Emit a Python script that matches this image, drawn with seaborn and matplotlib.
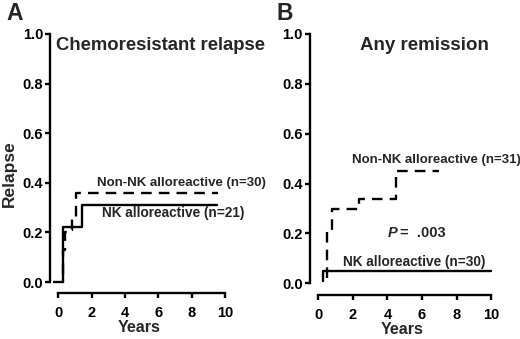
import numpy as np
import pandas as pd
import matplotlib
matplotlib.use("Agg")
import matplotlib.pyplot as plt
import seaborn as sns

# Panel A: chemoresistant relapse (step curves, years vs cumulative relapse)
a_nk_years = [0.3, 0.31, 1.45, 9.55]
a_nk_relapse = [0.0, 0.22, 0.31, 0.31]
a_non_years = [-0.3, 0.3, 0.4, 0.55, 0.85, 1.05, 9.6]
a_non_relapse = [0.0, 0.13, 0.20, 0.21, 0.26, 0.36, 0.36]

# Panel B: any remission
b_nk_years = [0.25, 0.27, 10.0]
b_nk_relapse = [0.01, 0.05, 0.05]
b_non_years = [0.5, 0.52, 0.77, 2.35, 4.49, 7.0]
b_non_relapse = [0.02, 0.21, 0.30, 0.34, 0.45, 0.45]

x_ticks = [0, 2, 4, 6, 8, 10]
y_ticks = [0.0, 0.2, 0.4, 0.6, 0.8, 1.0]

sns.set_style("ticks")
plt.rcParams["font.family"] = ["Liberation Sans", "DejaVu Sans"]
plt.rcParams["font.weight"] = "bold"

fig = plt.figure(figsize=(5.2, 3.39), dpi=100)
ax_a = fig.add_axes([50 / 520, (339 - 287) / 339, 178.3 / 520, 258 / 339])
ax_b = fig.add_axes([309.7 / 520, (339 - 288.3) / 339, 184.8 / 520, 259.3 / 339])

def draw_curve(ax, xs, ys, style):
    df = pd.DataFrame({"Years": xs, "Relapse": ys})
    sns.lineplot(data=df, x="Years", y="Relapse", ax=ax, estimator=None,
                 drawstyle="steps-post", color="black", linewidth=1.7,
                 linestyle=style, clip_on=False)

dash = (0, (4.5, 3))
draw_curve(ax_a, a_nk_years, a_nk_relapse, "-")
draw_curve(ax_a, a_non_years, a_non_relapse, dash)
draw_curve(ax_b, b_nk_years, b_nk_relapse, "-")
draw_curve(ax_b, b_non_years, b_non_relapse, dash)

for ax in (ax_a, ax_b):
    ax.set_xlim(-0.5, 10.2)
    ax.set_ylim(-0.02, 1.02)
    ax.spines["top"].set_visible(False)
    ax.spines["right"].set_visible(False)
    ax.spines["left"].set_bounds(0, 1)
    ax.spines["bottom"].set_bounds(0, 10)
    ax.spines["bottom"].set_position(("outward", 4.5))
    for s in ("left", "bottom"):
        ax.spines[s].set_linewidth(1.7)
        ax.spines[s].set_color("black")
    ax.set_xticks(x_ticks)
    ax.set_xticklabels([str(t) for t in x_ticks], fontsize=10.5, fontweight="bold")
    ax.set_yticks(y_ticks)
    ax.set_yticklabels([f"{t:.1f}" for t in y_ticks], fontsize=10.5, fontweight="bold")
    ax.tick_params(direction="out", length=3.5, width=1.7, colors="black")
    ax.tick_params(axis="x", pad=6)
    ax.tick_params(axis="y", pad=1.5)
    ax.set_xlabel("Years", fontsize=11.5, fontweight="bold", labelpad=0)
    ax.set_ylabel("")

ax_a.set_ylabel("Relapse", fontsize=12.5, fontweight="bold")
ax_a.yaxis.set_label_coords(-0.185, 0.44)

ax_a.text(-0.14, 0.955, "Chemoresistant relapse", fontsize=13.3, fontweight="bold", va="center")
ax_b.text(2.41, 0.955, "Any remission", fontsize=13.5, fontweight="bold", va="center")

ax_a.text(2.3, 0.40, "Non-NK alloreactive (n=30)", fontsize=9.5, fontweight="bold", va="center")
ax_a.text(2.6, 0.28, "NK alloreactive (n=21)", fontsize=9.8, fontweight="bold", va="center")
ax_b.text(1.95, 0.494, "Non-NK alloreactive (n=31)", fontsize=9.5, fontweight="bold", va="center")
ax_b.text(1.43, 0.085, "NK alloreactive (n=30)", fontsize=9.8, fontweight="bold", va="center")
ax_b.text(4.0, 0.20, "P", fontsize=10.5, fontweight="bold", fontstyle="italic", va="center")
ax_b.text(4.7, 0.20, "=  .003", fontsize=10.5, fontweight="bold", va="center")

fig.text(6 / 520, 1 - 13.5 / 339, "A", fontsize=16.5, fontweight="bold", va="center")
fig.text(277 / 520, 1 - 13 / 339, "B", fontsize=16.5, fontweight="bold", va="center")

fig.savefig("out.png", dpi=100)
